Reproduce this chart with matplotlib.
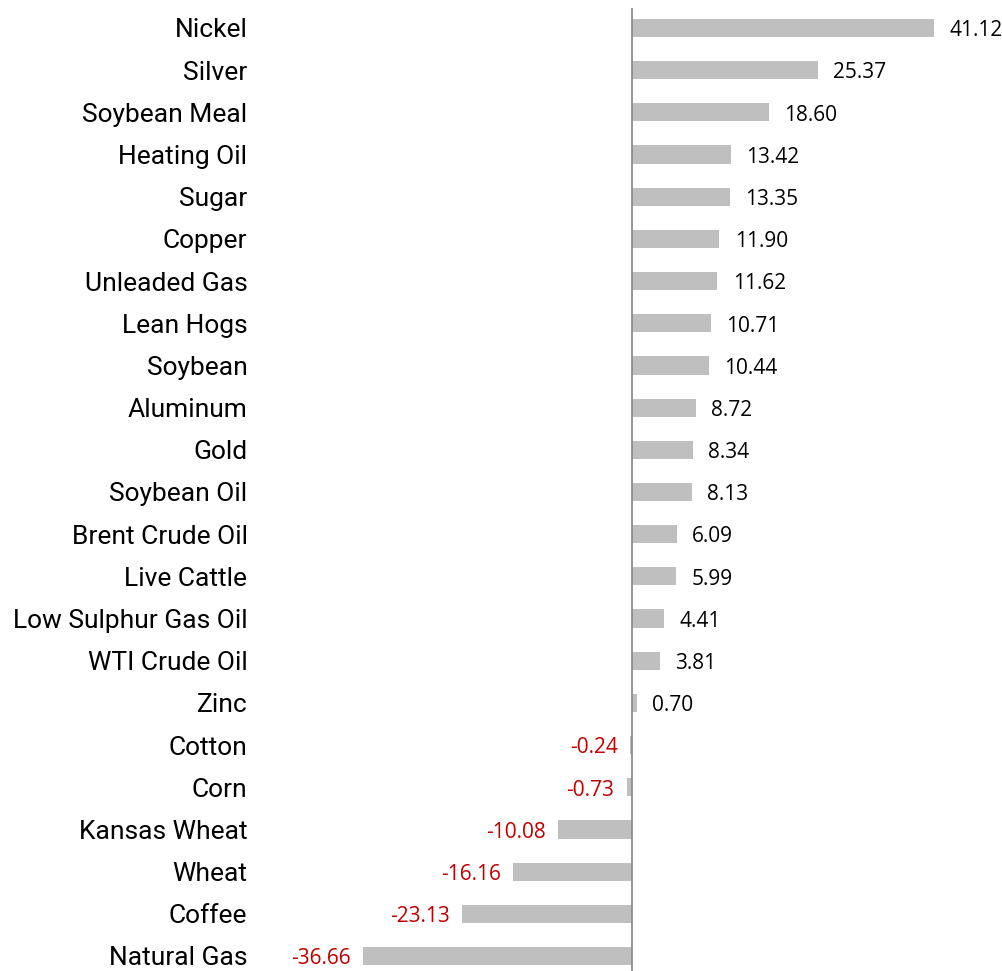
import matplotlib.pyplot as plt

commodities = ['Nickel', 'Silver', 'Soybean Meal', 'Heating Oil', 'Sugar', 'Copper',
               'Unleaded Gas', 'Lean Hogs', 'Soybean', 'Aluminum', 'Gold', 'Soybean Oil',
               'Brent Crude Oil', 'Live Cattle', 'Low Sulphur Gas Oil', 'WTI Crude Oil',
               'Zinc', 'Cotton', 'Corn', 'Kansas Wheat', 'Wheat', 'Coffee', 'Natural Gas']
returns = [41.12, 25.37, 18.60, 13.42, 13.35, 11.90, 11.62, 10.71, 10.44, 8.72, 8.34, 8.13,
           6.09, 5.99, 4.41, 3.81, 0.70, -0.24, -0.73, -10.08, -16.16, -23.13, -36.66]

bar_color = '#BFBFBF'
neg_color = '#C00000'

fig = plt.figure(figsize=(10.02, 9.71), dpi=100)
ax = fig.add_axes([260 / 1002, 0, 1 - 260 / 1002, 963 / 971])

pos = list(range(len(commodities)))
ax.barh(pos, returns, height=0.43, color=bar_color, zorder=2)

ax.set_xlim((260 - 632) / 7.34, (1002 - 632) / 7.34)
ax.set_ylim(22.356, -0.474)

ax.axvline(0, color='#8C8C8C', lw=1.3, zorder=3)

for s in ax.spines.values():
    s.set_visible(False)
ax.set_xticks([])
ax.set_yticks(pos)
ax.set_yticklabels(commodities, family='Roboto', fontsize=19)
ax.tick_params(axis='y', length=0, pad=9)

for y, v in zip(pos, returns):
    if v >= 0:
        ax.annotate(f'{v:.2f}', (v, y), xytext=(11, -2), textcoords='offset points',
                    ha='left', va='center', fontsize=15, family='Open Sans', color='black')
    else:
        ax.annotate(f'{v:.2f}', (v, y), xytext=(-9, -2), textcoords='offset points',
                    ha='right', va='center', fontsize=15, family='Open Sans', color=neg_color)

fig.savefig('out.png', dpi=100)
